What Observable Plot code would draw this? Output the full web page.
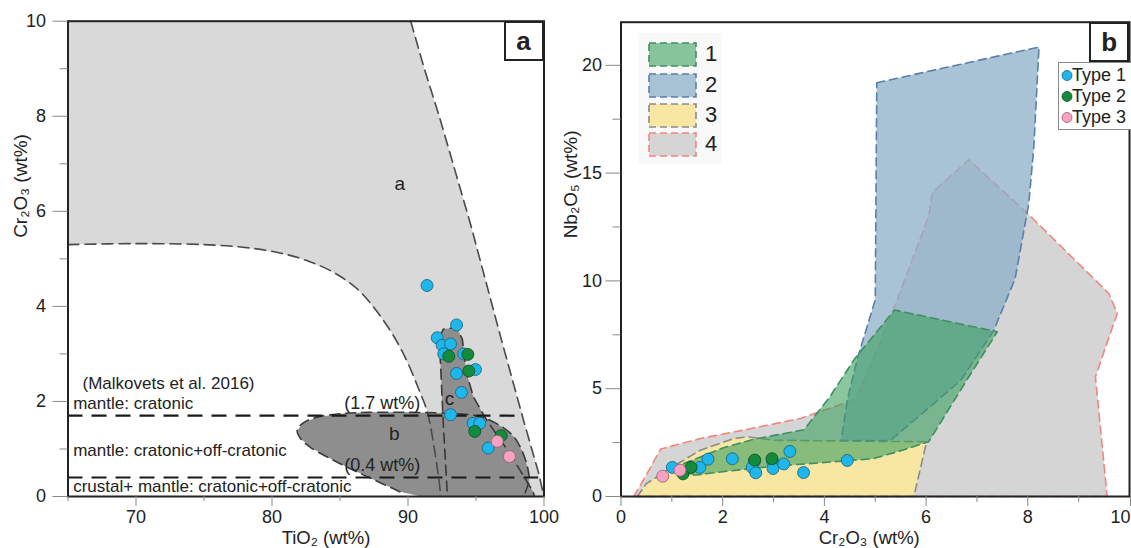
<!DOCTYPE html>
<html><head><meta charset="utf-8">
<script src="https://cdn.jsdelivr.net/npm/d3@7"></script>
<script src="https://cdn.jsdelivr.net/npm/@observablehq/plot@0.6"></script>
<style>
body{margin:0;background:#fff;}
#wrap{position:relative;width:1131px;height:548px;overflow:hidden;font-family:"Liberation Sans",Arial,sans-serif;color:#222;}
.panel{position:absolute;top:0;}
.letter{position:absolute;width:40px;height:40px;box-sizing:border-box;border:2px solid #222;background:#fff;font-weight:bold;font-size:26px;display:flex;align-items:center;justify-content:center;line-height:1;}
.leg{position:absolute;}
</style></head>
<body><div id="wrap"></div>
<script>
// ---------- Panel a : TiO2 vs Cr2O3 ----------
const tiO2Major = [70, 80, 90, 100];
const tiO2Minor = [65, 75, 85, 95];
const crMajorA = [0, 2, 4, 6, 8, 10];
const crMinorA = [1, 3, 5, 7, 9];

const regionACurve = [[65,5.3],[70,5.32],[75,5.3],[78,5.24],[80.5,5.13],[82.5,4.97],[84.5,4.72],[86.3,4.36],[87.8,3.86],[89,3.35],[90,2.8],[90.8,2.25],[91.4,1.8],[91.8,1.25],[92.1,0.7],[92.3,0.3],[92.4,0]];
const regionAOuter = [[90.2,10],[91.2,9],[92.3,8],[94.6,5.73],[96.8,3.37],[98.5,1.6],[99.1,1.0],[99.6,0.5],[100,0]];
const regionB = [[81.85,1.39],[82.3,1.55],[83.3,1.67],[85,1.74],[87,1.77],[90,1.77],[93,1.75],[95,1.7],[95.8,1.63],[97,1.45],[97.8,1.25],[98.4,0.95],[98.8,0.6],[98.9,0.34],[98.5,0],[91,0],[89.4,0.1],[87.5,0.35],[85.5,0.62],[84,0.84],[82.8,1.04],[82.1,1.22]];
const regionC = [[92.3,3.35],[92.6,3.52],[93.6,3.56],[94.0,3.3],[94.3,2.6],[94.8,2.1],[95.8,1.6],[97.5,0.9],[99.2,0.1],[99.3,0],[92.9,0],[92.6,1.5]];
const thresholds = [1.7, 0.4];
const thresholdEnds = [98.2, 99.6];
const aType1 = [[91.4,4.44],[93.57,3.61],[92.15,3.34],[92.51,3.18],[93.13,3.21],[92.63,3.0],[94.1,3.0],[93.57,2.59],[94.96,2.67],[93.93,2.19],[93.13,1.72],[94.79,1.54],[95.28,1.54],[95.9,1.02]];
const aType2 = [[93.0,2.95],[94.4,2.99],[94.47,2.64],[94.91,1.37],[96.85,1.28]];
const aType3 = [[96.56,1.16],[97.46,0.84]];
const zoneTexts = ["(Malkovets et al. 2016)", "mantle: cratonic", "mantle: cratonic+off-cratonic", "crustal+ mantle: cratonic+off-cratonic"];
const zoneX = [66.07, 65.38, 65.38, 65.38];
const zoneY = [2.37, 1.95, 0.97, 0.2];
const thresholdTexts = ["(1.7 wt%)", "(0.4 wt%)"];
const thresholdTextY = [1.96, 0.65];
const regionLetters = ["a", "b", "c"];
const regionLetterX = [89.4, 89.0, 93.05];
const regionLetterY = [6.58, 1.32, 2.05];

// ---------- Panel b : Cr2O3 vs Nb2O5 ----------
const crMajorB = [0, 2, 4, 6, 8];
const crLastB = [10];
const crMinorB = [1, 3, 5, 7, 9];
const nbMajor = [0, 5, 10, 15, 20];
const nbMinor = [2.5, 7.5, 12.5, 17.5];
const field4 = [[0.25,0],[0.45,0.8],[0.78,2.2],[1.56,2.69],[2.41,3.08],[3.53,3.62],[4.6,4.5],[4.75,5.2],[5.1,7.2],[5.43,9.12],[6.05,13.0],[6.12,14.1],[6.84,15.62],[7.99,13.14],[9.59,9.43],[9.76,8.5],[9.33,5.56],[9.56,0]];
const field3 = [[0.32,0],[0.5,0.6],[0.91,1.22],[1.56,2.15],[2.22,2.69],[2.48,2.77],[3.01,2.61],[4.5,2.57],[6.01,2.54],[5.76,0]];
const field2 = [[5.03,19.19],[8.22,20.85],[8.12,16.25],[8.02,13.6],[7.75,10.1],[7.33,7.7],[6.68,5.38],[5.3,2.6],[4.33,2.6],[4.45,4.47],[4.64,6.33],[5.0,9.13]];
const field1 = [[1.15,1.0],[1.2,1.5],[2.0,2.25],[2.6,2.65],[3.6,3.1],[4.1,4.6],[4.6,6.4],[5.38,8.65],[7.4,7.64],[6.8,5.4],[6.05,2.54],[5.4,2.05],[4.95,1.75],[3.0,1.4],[2.0,1.15],[1.5,1.0]];
const bType1 = [[1.01,1.35],[1.55,1.35],[1.71,1.73],[2.19,1.75],[2.62,1.62],[2.58,1.35],[2.65,1.10],[2.98,1.62],[2.99,1.30],[3.20,1.51],[3.32,2.09],[3.59,1.11],[4.45,1.67]];
const bType2 = [[1.22,1.05],[1.38,1.35],[2.63,1.69],[2.97,1.75]];
const bType3 = [[0.82,0.94],[1.16,1.22]];
const fieldNames = ["1", "2", "3", "4"];
const typeNames = ["Type 1", "Type 2", "Type 3"];

// styles
const colType = ["#1fb6ea", "#138a3c", "#f6a2c2"];
const colTypeStroke = ["#17607e", "#0b4d22", "#9a5a72"];
const fieldFill = ["rgb(60,160,95)", "rgb(140,175,200)", "#f8e6a3", "#d5d5d5"];
const fieldOpacity = [0.6, 0.75, 1, 1];
const fieldStroke = ["#3f8f62", "#5b7eaa", "#8a8a8a", "#f2857c"];

const X = d => d[0], Y = d => d[1];
const closed = p => [...p, p[0]];
const font = '"Liberation Sans", Arial, sans-serif';
const wrap = document.getElementById("wrap");

function dots(data, i) {
  return Plot.dot(data, {x: X, y: Y, r: 6, fill: colType[i], stroke: colTypeStroke[i], strokeWidth: 0.8});
}
const dash = {strokeWidth: 1.6, strokeDasharray: "10,6"};

const plotA = Plot.plot({
  width: 560, height: 548,
  marginLeft: 67.5, marginRight: 16.5, marginTop: 20.7, marginBottom: 52,
  style: {fontFamily: font, fontSize: "18px", background: "transparent", color: "#222"},
  x: {domain: [65, 100]},
  y: {domain: [0, 10]},
  marks: [
    Plot.line([[65,10], ...regionACurve, ...regionAOuter.slice().reverse()], {x: X, y: Y, fill: "#d9d9d9", stroke: "none"}),
    Plot.line(regionC, {x: X, y: Y, fill: "#8e8e8e", stroke: "none"}),
    Plot.line(regionB, {x: X, y: Y, fill: "#8e8e8e", stroke: "none"}),
    Plot.line(regionACurve, {x: X, y: Y, stroke: "#4a4a4a", ...dash, strokeDasharray: "11,6", curve: "catmull-rom"}),
    Plot.line(regionAOuter, {x: X, y: Y, stroke: "#4a4a4a", ...dash, strokeDasharray: "11,6"}),
    Plot.line([...regionB.slice(16), ...regionB.slice(0, 15)], {x: X, y: Y, stroke: "#3a3a3a", ...dash, curve: "catmull-rom"}),
    Plot.line(regionC.slice(0, 10), {x: X, y: Y, stroke: "#3a3a3a", ...dash}),
    Plot.line([regionC[0], regionC[11], regionC[10]], {x: X, y: Y, stroke: "#3a3a3a", ...dash}),
    Plot.ruleY(thresholds, {x1: 65, x2: (d, i) => thresholdEnds[i], stroke: "#1a1a1a", strokeWidth: 2.2, strokeDasharray: "15,9"}),
    Plot.text(zoneTexts, {x: (d, i) => zoneX[i], y: (d, i) => zoneY[i], text: d => d, textAnchor: "start", fontSize: 17, fill: "#222"}),
    Plot.text(thresholdTexts, {x: 90.9, y: (d, i) => thresholdTextY[i], text: d => d, textAnchor: "end", fontSize: 18, fill: "#222"}),
    Plot.text(regionLetters, {x: (d, i) => regionLetterX[i], y: (d, i) => regionLetterY[i], text: d => d, fontSize: 19, fill: "#222"}),
    dots(aType1, 0), dots(aType2, 1), dots(aType3, 2),
    Plot.frame({stroke: "#222", strokeWidth: 2}),
    Plot.axisX(tiO2Major, {tickSize: 10, tickPadding: 4, stroke: "#888", fill: "#222", label: null, fontSize: 18}),
    Plot.axisX(tiO2Minor, {tickSize: 5, tickFormat: () => "", stroke: "#888", label: null}),
    Plot.axisY(crMajorA, {tickSize: 15, tickPadding: 7, stroke: "#888", fill: "#222", label: null, fontSize: 18}),
    Plot.axisY(crMinorA, {tickSize: 8, tickFormat: () => "", stroke: "#888", label: null}),
    Plot.text(["TiO₂ (wt%)"], {frameAnchor: "bottom", dx: 20, dy: 47, fontSize: 18.5, fill: "#222"}),
    Plot.text(["Cr₂O₃ (wt%)"], {frameAnchor: "left", rotate: -90, dx: -47, dy: -21, fontSize: 19, fill: "#222"})
  ]
});
plotA.classList.add("panel");
plotA.style.left = "0px";
wrap.appendChild(plotA);

const plotB = Plot.plot({
  width: 571, height: 548,
  marginLeft: 60.5, marginRight: 2, marginTop: 21.7, marginBottom: 52,
  style: {fontFamily: font, fontSize: "18px", background: "transparent", color: "#222"},
  x: {domain: [0, 10]},
  y: {domain: [0, 22]},
  marks: [
    Plot.line(closed(field4), {x: X, y: Y, fill: fieldFill[3], fillOpacity: fieldOpacity[3], stroke: fieldStroke[3], strokeWidth: 1.6, strokeDasharray: "8,5"}),
    Plot.line(closed(field3), {x: X, y: Y, fill: fieldFill[2], fillOpacity: fieldOpacity[2], stroke: fieldStroke[2], strokeWidth: 1.6, strokeDasharray: "8,5"}),
    Plot.line(closed(field2), {x: X, y: Y, fill: fieldFill[1], fillOpacity: fieldOpacity[1], stroke: fieldStroke[1], strokeWidth: 1.6, strokeDasharray: "8,5"}),
    Plot.line(closed(field1), {x: X, y: Y, fill: fieldFill[0], fillOpacity: fieldOpacity[0], stroke: fieldStroke[0], strokeWidth: 1.6, strokeDasharray: "8,5"}),
    dots(bType1, 0), dots(bType2, 1), dots(bType3, 2),
    Plot.frame({stroke: "#222", strokeWidth: 2}),
    Plot.axisX(crMajorB, {tickSize: 10, tickPadding: 4, stroke: "#888", fill: "#222", label: null, fontSize: 18}),
    Plot.axisX(crLastB, {tickSize: 10, tickPadding: 4, stroke: "#888", fill: "#222", label: null, fontSize: 18, textAnchor: "end", dx: 1}),
    Plot.axisX(crMinorB, {tickSize: 6, tickFormat: () => "", stroke: "#888", label: null}),
    Plot.axisY(nbMajor, {tickSize: 15, tickPadding: 4, stroke: "#888", fill: "#222", label: null, fontSize: 18}),
    Plot.axisY(nbMinor, {tickSize: 8, tickFormat: () => "", stroke: "#888", label: null}),
    Plot.text(["Cr₂O₃ (wt%)"], {frameAnchor: "bottom", dx: -6, dy: 47, fontSize: 18.5, fill: "#222"}),
    Plot.text(["Nb₂O₅ (wt%)"], {frameAnchor: "left", rotate: -90, dx: -50, dy: -21, fontSize: 19, fill: "#222"})
  ]
});
plotB.classList.add("panel");
plotB.style.left = "560px";
wrap.appendChild(plotB);

// panel letters
[["a", 503.5, 20.7], ["b", 1089.3, 21.7]].forEach(([t, l, tp]) => {
  const d = document.createElement("div");
  d.className = "letter"; d.textContent = t;
  d.style.left = l + "px"; d.style.top = tp + "px";
  wrap.appendChild(d);
});

// field legend (1-4)
const fl = d3.select(wrap).append("div").attr("class", "leg")
  .style("left", "638px").style("top", "33px").style("width", "84px").style("height", "131px")
  .style("background", "#f9f9f9");
const swatchTops = [9, 40, 70, 99];
fieldNames.forEach((n, i) => {
  const s = fl.append("svg").attr("width", 49).attr("height", 25)
    .style("position", "absolute").style("left", "10px").style("top", swatchTops[i] + "px");
  s.append("rect").attr("x", 1).attr("y", 1).attr("width", 47).attr("height", 23)
    .attr("fill", fieldFill[i]).attr("fill-opacity", fieldOpacity[i])
    .attr("stroke", fieldStroke[i]).attr("stroke-width", 1.6).attr("stroke-dasharray", "7,4");
  fl.append("div").text(n).style("position", "absolute").style("left", "67px")
    .style("top", (swatchTops[i] - 1) + "px").style("font-size", "22px").style("line-height", "26px");
});

// type legend
const tl = d3.select(wrap).append("div").attr("class", "leg")
  .style("left", "1058px").style("top", "62px").style("width", "80px").style("height", "68px")
  .style("border", "1px solid #8a8a8a").style("background", "#fff").style("box-sizing", "border-box");
typeNames.forEach((n, i) => {
  const row = tl.append("div").style("position", "absolute").style("left", "0px")
    .style("top", (2 + i * 21) + "px").style("height", "21px").style("white-space", "nowrap");
  const s = row.append("svg").attr("width", 14).attr("height", 21).style("position", "absolute").style("left", "1px");
  s.append("circle").attr("cx", 7).attr("cy", 10.5).attr("r", 5)
    .attr("fill", colType[i]).attr("stroke", colTypeStroke[i]).attr("stroke-width", 0.8);
  row.append("span").text(n).style("position", "absolute").style("left", "13px")
    .style("font-size", "18px").style("line-height", "21px");
});
</script>
</body></html>
